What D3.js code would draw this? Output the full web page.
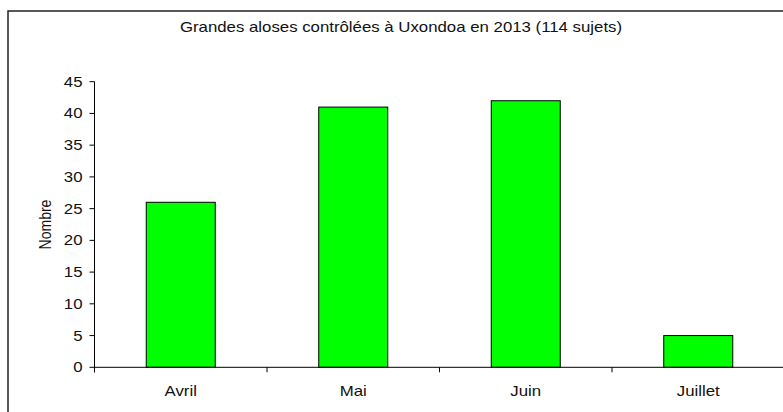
<!DOCTYPE html>
<html><head><meta charset="utf-8">
<script src="https://cdn.jsdelivr.net/npm/d3@7"></script>
<style>body{margin:0;background:#fff}svg{display:block;font-family:"Liberation Sans",Arial,sans-serif}</style>
</head><body>
<script>
const categories = ["Avril","Mai","Juin","Juillet"];
const values = [26,41,42,5];
const yTicks = [0,5,10,15,20,25,30,35,40,45];
const title = "Grandes aloses contrôlées à Uxondoa en 2013 (114 sujets)";
const yLabel = "Nombre";

(function(){
const W=783,H=412,SX=1.2;
const svg=d3.select("body").append("svg").attr("width",W).attr("height",H);
svg.append("rect").attr("x",8).attr("y",11).attr("width",800).attr("height",420)
  .attr("fill","none").attr("stroke","#222").attr("stroke-width",1.5);

const pL=94.5,pR=784.5,pT=81.7,pB=367.3;
const x=d3.scaleBand().domain(categories).range([pL,pR]).paddingInner(0.6).paddingOuter(0.3);
const xb=d3.scaleBand().domain(categories).range([pL,pR]);
const y=d3.scaleLinear().domain([0,45]).range([pB,pT]);

svg.append("text").attr("transform",`translate(401,32) scale(${SX},1)`).attr("text-anchor","middle")
  .attr("font-size",14).attr("fill","#111").text(title);

svg.selectAll("rect.bar").data(values).join("rect").attr("class","bar")
  .attr("x",(d,i)=>x(categories[i])).attr("width",x.bandwidth())
  .attr("y",d=>y(d)).attr("height",d=>y(0)-y(d))
  .attr("fill","#00ff00").attr("stroke","#000").attr("stroke-width",1);

const g=svg.append("g");
g.append("line").attr("x1",pL).attr("x2",pL).attr("y1",pT).attr("y2",pB+5).attr("stroke","#000");
g.selectAll("line.yt").data(yTicks).join("line").attr("class","yt")
  .attr("x1",pL-5).attr("x2",pL).attr("y1",d=>y(d)).attr("y2",d=>y(d)).attr("stroke","#000");
g.selectAll("text.yl").data(yTicks).join("text").attr("class","yl")
  .attr("transform",d=>`translate(${pL-12},${y(d)}) scale(${SX},1)`).attr("dy","0.36em").attr("text-anchor","end")
  .attr("font-size",14).attr("fill","#111").text(d=>d);
g.append("line").attr("x1",pL).attr("x2",pR).attr("y1",pB).attr("y2",pB).attr("stroke","#000");
g.selectAll("line.xt").data(categories).join("line").attr("class","xt")
  .attr("x1",d=>xb(d)).attr("x2",d=>xb(d)).attr("y1",pB).attr("y2",pB+5).attr("stroke","#000");
g.selectAll("text.xl").data(categories).join("text").attr("class","xl")
  .attr("transform",d=>`translate(${xb(d)+xb.bandwidth()/2},396) scale(${SX},1)`).attr("text-anchor","middle")
  .attr("font-size",14).attr("fill","#111").text(d=>d);

svg.append("text").attr("transform",`translate(51,${(pT+pB)/2}) rotate(-90) scale(1,${SX})`)
  .attr("text-anchor","middle").attr("font-size",14).attr("fill","#111").text(yLabel);
})();
</script>
</body></html>
